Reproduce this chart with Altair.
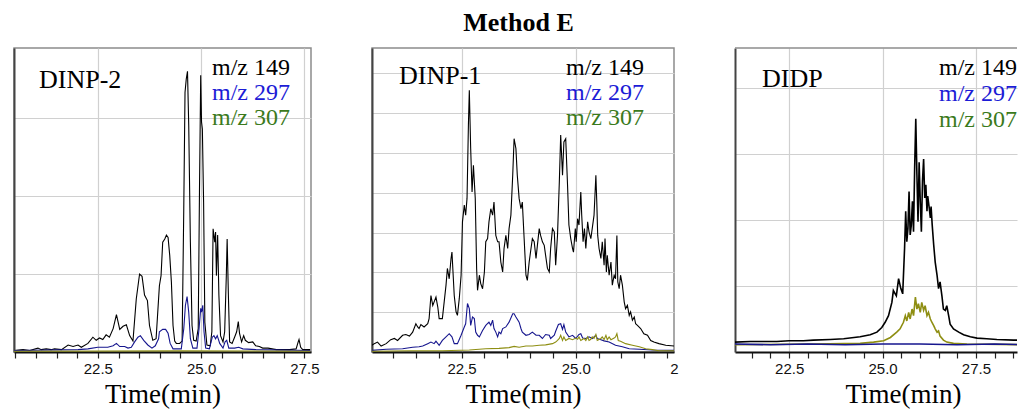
import altair as alt
import pandas as pd

# ---------------- text ----------------
TITLE = "Method E"
X_TITLE = "Time(min)"
ION_NAMES = ["m/z 149", "m/z 297", "m/z 307"]
PANEL_NAMES = ["DINP-2", "DINP-1", "DIDP"]
TRACE_COLORS = {"m/z 149": "#000000", "m/z 297": "#16168e", "m/z 307": "#8e8e12"}
LABEL_COLORS = {"m/z 149": "#000000", "m/z 297": "#1c1cd6", "m/z 307": "#3b7a1c"}

# ---------------- panel 1 : DINP-2 ----------------
p1_t149 = [20.47, 20.69, 20.85, 21.05, 21.13, 21.25, 21.37, 21.45, 21.62, 21.78,
           21.90, 22.02, 22.10, 22.26, 22.38, 22.46, 22.54, 22.62, 22.70, 22.78,
           22.87, 22.95, 23.03, 23.11, 23.19, 23.27, 23.35, 23.43, 23.51, 23.57,
           23.63, 23.70, 23.75, 23.83, 23.91, 23.99, 24.03, 24.07, 24.12, 24.16,
           24.20, 24.24, 24.28, 24.32, 24.36, 24.40, 24.48, 24.54, 24.58, 24.61,
           24.64, 24.67, 24.70, 24.74, 24.78, 24.82, 24.88, 24.93, 24.96, 24.99,
           25.01, 25.03, 25.06, 25.09, 25.14, 25.22, 25.26, 25.29, 25.33, 25.35,
           25.37, 25.40, 25.43, 25.47, 25.53, 25.57, 25.61, 25.63, 25.66, 25.69,
           25.75, 25.81, 25.86, 25.90, 25.93, 25.98, 26.03, 26.07, 26.15, 26.25,
           26.32, 26.41, 26.49, 26.62, 26.82, 27.14, 27.30, 27.35, 27.37, 27.41,
           27.46, 27.64]
p1_i149 = [0.02, 0.03, 0.02, 0.05, 0.03, 0.04, 0.03, 0.04, 0.03, 0.09,
           0.07, 0.09, 0.06, 0.11, 0.19, 0.15, 0.18, 0.16, 0.22, 0.19,
           0.30, 0.48, 0.29, 0.33, 0.35, 0.21, 0.14, 0.68, 1.00, 0.97,
           0.73, 0.66, 0.34, 0.15, 0.17, 0.85, 0.98, 1.41, 1.45, 1.50,
           1.47, 1.24, 0.90, 0.34, 0.14, 0.11, 0.11, 0.14, 1.84, 3.33,
           3.50, 3.60, 2.91, 1.41, 0.34, 0.15, 0.14, 0.30, 2.05, 3.55,
           2.95, 2.86, 1.92, 0.38, 0.09, 0.08, 0.26, 1.58, 1.41, 1.54,
           0.98, 1.50, 0.73, 0.21, 0.13, 0.26, 0.98, 1.45, 0.73, 0.13,
           0.11, 0.19, 0.26, 0.39, 0.24, 0.13, 0.21, 0.15, 0.12, 0.13,
           0.08, 0.07, 0.05, 0.05, 0.03, 0.03, 0.04, 0.13, 0.16, 0.06,
           0.03, 0.03]
p1_t297 = [20.47, 22.02, 22.26, 22.50, 22.74, 22.87, 22.95, 23.03, 23.15, 23.23,
           23.31, 23.39, 23.47, 23.53, 23.61, 23.71, 23.81, 23.89, 23.97, 23.99,
           24.07, 24.14, 24.20, 24.25, 24.32, 24.52, 24.58, 24.62, 24.66, 24.70,
           24.74, 24.80, 24.90, 24.95, 24.99, 25.01, 25.04, 25.07, 25.11, 25.20,
           25.27, 25.31, 25.35, 25.39, 25.45, 25.53, 25.58, 25.62, 25.67, 25.81,
           25.91, 26.01, 26.33, 27.64]
p1_i297 = [0.02, 0.03, 0.04, 0.06, 0.06, 0.08, 0.11, 0.07, 0.07, 0.05,
           0.06, 0.13, 0.19, 0.21, 0.15, 0.09, 0.05, 0.08, 0.17, 0.26,
           0.29, 0.29, 0.24, 0.11, 0.04, 0.04, 0.30, 0.60, 0.71, 0.51,
           0.17, 0.05, 0.05, 0.30, 0.56, 0.51, 0.60, 0.26, 0.05, 0.04,
           0.19, 0.21, 0.17, 0.21, 0.11, 0.05, 0.13, 0.15, 0.05, 0.05,
           0.06, 0.04, 0.03, 0.02]
p1_t307 = [20.47, 24.50, 27.64]
p1_i307 = [0.01, 0.015, 0.01]

# ---------------- panel 2 : DINP-1 ----------------
p2_t149 = [20.54, 20.59, 20.66, 20.74, 20.85, 20.95, 21.03, 21.10, 21.21, 21.28,
           21.36, 21.43, 21.50, 21.54, 21.57, 21.61, 21.68, 21.76, 21.79, 21.83,
           21.87, 21.90, 21.94, 21.98, 22.01, 22.08, 22.16, 22.19, 22.23, 22.27,
           22.29, 22.34, 22.38, 22.41, 22.45, 22.49, 22.52, 22.56, 22.59, 22.62,
           22.65, 22.67, 22.70, 22.73, 22.76, 22.80, 22.83, 22.85, 22.89, 22.92,
           22.96, 23.00, 23.03, 23.07, 23.10, 23.14, 23.18, 23.21, 23.25, 23.29,
           23.32, 23.36, 23.40, 23.43, 23.47, 23.51, 23.54, 23.58, 23.62, 23.65,
           23.69, 23.72, 23.76, 23.80, 23.83, 23.87, 23.91, 23.94, 23.98, 24.02,
           24.05, 24.09, 24.13, 24.16, 24.20, 24.23, 24.27, 24.31, 24.34, 24.38,
           24.42, 24.45, 24.49, 24.53, 24.56, 24.60, 24.64, 24.67, 24.71, 24.74,
           24.78, 24.82, 24.85, 24.89, 24.93, 24.95, 24.99, 25.01, 25.04, 25.07,
           25.11, 25.13, 25.16, 25.19, 25.22, 25.26, 25.29, 25.33, 25.36, 25.40,
           25.44, 25.46, 25.48, 25.51, 25.55, 25.58, 25.62, 25.64, 25.67, 25.69,
           25.73, 25.77, 25.80, 25.84, 25.87, 25.90, 25.92, 25.95, 25.98, 26.02,
           26.06, 26.09, 26.13, 26.17, 26.20, 26.24, 26.28, 26.31, 26.35, 26.42,
           26.49, 26.57, 26.64, 26.71, 26.82, 26.97, 27.15]
p2_i149 = [0.17, 0.21, 0.25, 0.15, 0.21, 0.31, 0.34, 0.29, 0.42, 0.44,
           0.40, 0.50, 0.71, 0.63, 0.59, 0.69, 0.63, 0.71, 0.84, 1.42,
           1.17, 1.26, 1.38, 1.13, 0.84, 0.84, 1.68, 2.10, 1.84, 2.35,
           2.51, 1.42, 1.01, 0.92, 1.34, 1.93, 3.27, 3.69, 3.44, 3.86,
           5.70, 6.58, 5.11, 4.02, 4.69, 3.86, 2.10, 1.55, 1.93, 1.72,
           1.59, 2.01, 2.77, 2.85, 3.27, 3.60, 3.44, 3.77, 2.93, 2.77,
           2.77, 2.26, 2.01, 2.60, 2.93, 2.60, 3.10, 3.44, 4.44, 5.36,
           5.11, 4.44, 3.86, 3.60, 3.77, 2.85, 1.93, 1.80, 2.26, 2.60,
           2.85, 2.77, 2.35, 2.68, 3.10, 2.93, 2.77, 2.68, 2.43, 2.10,
           2.01, 2.60, 3.10, 3.02, 2.18, 2.93, 4.27, 5.45, 4.44, 5.28,
           5.36, 4.19, 3.19, 2.85, 2.60, 2.51, 3.10, 2.77, 3.35, 3.19,
           4.02, 3.44, 2.77, 3.10, 2.60, 3.27, 3.02, 2.85, 3.10, 3.44,
           4.44, 3.77, 2.93, 2.60, 2.35, 2.77, 2.18, 2.85, 2.01, 2.43,
           1.93, 2.26, 1.68, 1.93, 1.84, 2.93, 1.76, 1.59, 1.93, 1.68,
           1.26, 1.09, 1.17, 0.92, 1.01, 0.80, 0.88, 0.71, 0.67, 0.59,
           0.46, 0.42, 0.29, 0.25, 0.21, 0.17, 0.15]
p2_t297 = [20.54, 20.85, 21.21, 21.43, 21.57, 21.65, 21.76, 21.83, 21.90, 21.94,
           22.01, 22.08, 22.16, 22.23, 22.29, 22.34, 22.41, 22.49, 22.56, 22.59,
           22.63, 22.67, 22.70, 22.74, 22.78, 22.81, 22.85, 22.89, 22.96, 23.03,
           23.10, 23.14, 23.18, 23.21, 23.25, 23.29, 23.32, 23.36, 23.40, 23.47,
           23.54, 23.62, 23.65, 23.69, 23.76, 23.80, 23.83, 23.91, 23.98, 24.05,
           24.13, 24.20, 24.27, 24.34, 24.42, 24.45, 24.53, 24.56, 24.62, 24.67,
           24.71, 24.74, 24.78, 24.85, 24.93, 25.00, 25.07, 25.11, 25.15, 25.22,
           25.29, 25.36, 25.40, 25.44, 25.47, 25.55, 25.62, 25.73, 25.87, 26.02,
           26.17, 26.39, 26.68, 27.15]
p2_i297 = [0.04, 0.07, 0.08, 0.12, 0.13, 0.15, 0.21, 0.25, 0.21, 0.27,
           0.17, 0.29, 0.38, 0.46, 0.38, 0.21, 0.21, 0.42, 0.63, 0.71,
           1.22, 1.09, 0.67, 0.88, 0.84, 0.50, 0.42, 0.38, 0.54, 0.67,
           0.75, 0.67, 0.80, 0.59, 0.50, 0.38, 0.50, 0.46, 0.59, 0.63,
           0.75, 0.96, 0.96, 0.88, 0.75, 0.59, 0.50, 0.42, 0.44, 0.50,
           0.42, 0.42, 0.34, 0.44, 0.42, 0.34, 0.42, 0.52, 0.69, 0.71,
           0.57, 0.69, 0.50, 0.38, 0.42, 0.34, 0.44, 0.46, 0.35, 0.34,
           0.38, 0.34, 0.38, 0.42, 0.34, 0.31, 0.28, 0.25, 0.17, 0.13,
           0.08, 0.07, 0.05, 0.04]
p2_t307 = [20.54, 21.36, 22.08, 22.67, 23.03, 23.32, 23.54, 23.65, 23.76, 23.91,
           24.05, 24.20, 24.34, 24.49, 24.56, 24.60, 24.64, 24.67, 24.71, 24.74,
           24.78, 24.85, 24.93, 25.00, 25.04, 25.07, 25.11, 25.18, 25.22, 25.26,
           25.29, 25.33, 25.36, 25.40, 25.44, 25.47, 25.55, 25.58, 25.62, 25.66,
           25.69, 25.73, 25.77, 25.84, 25.87, 25.90, 25.93, 25.98, 26.09, 26.24,
           26.39, 26.53, 26.68, 26.82, 27.15]
p2_i307 = [0.02, 0.03, 0.03, 0.05, 0.08, 0.09, 0.11, 0.14, 0.12, 0.15,
           0.15, 0.17, 0.18, 0.21, 0.25, 0.29, 0.34, 0.42, 0.29, 0.38,
           0.29, 0.34, 0.31, 0.35, 0.32, 0.38, 0.29, 0.34, 0.29, 0.38,
           0.29, 0.32, 0.38, 0.34, 0.44, 0.29, 0.34, 0.38, 0.31, 0.42,
           0.31, 0.38, 0.31, 0.35, 0.38, 0.46, 0.29, 0.27, 0.21, 0.17,
           0.13, 0.08, 0.06, 0.03, 0.03]

# ---------------- panel 3 : DIDP ----------------
p3_t149 = [21.05, 21.46, 21.81, 22.17, 22.50, 22.88, 23.15, 23.60, 23.96, 24.40,
           24.67, 24.85, 24.98, 25.07, 25.16, 25.25, 25.29, 25.37, 25.43, 25.49,
           25.54, 25.59, 25.62, 25.65, 25.68, 25.71, 25.74, 25.77, 25.80, 25.83,
           25.86, 25.89, 25.92, 25.95, 25.98, 26.01, 26.04, 26.07, 26.10, 26.13,
           26.16, 26.19, 26.21, 26.25, 26.28, 26.30, 26.33, 26.37, 26.41, 26.46,
           26.50, 26.54, 26.59, 26.63, 26.68, 26.72, 26.77, 26.81, 26.90, 27.04,
           27.17, 27.35, 27.53, 27.79, 28.06, 28.51, 28.91]
p3_i149 = [0.15, 0.16, 0.16, 0.16, 0.17, 0.17, 0.18, 0.19, 0.20, 0.23,
           0.26, 0.30, 0.37, 0.45, 0.55, 0.75, 0.93, 0.85, 1.11, 0.96,
           0.88, 1.57, 2.13, 1.67, 1.87, 2.43, 1.77, 1.92, 2.28, 1.82,
           2.79, 3.53, 2.69, 1.97, 2.87, 2.28, 1.82, 2.59, 2.92, 2.33,
           2.53, 2.13, 2.36, 2.18, 2.03, 2.20, 1.92, 1.62, 1.36, 1.16,
           0.96, 1.06, 0.85, 0.65, 0.63, 0.70, 0.55, 0.42, 0.35, 0.30,
           0.26, 0.23, 0.21, 0.20, 0.19, 0.18, 0.18]
p3_t297 = [21.05, 22.00, 23.00, 24.00, 25.00, 26.00, 27.00, 28.00, 28.91]
p3_i297 = [0.12, 0.11, 0.12, 0.11, 0.12, 0.12, 0.11, 0.12, 0.11]
p3_t307 = [21.05, 23.15, 24.40, 24.76, 25.03, 25.21, 25.38, 25.47, 25.56, 25.61,
           25.65, 25.70, 25.74, 25.79, 25.83, 25.88, 25.92, 25.96, 26.01, 26.05,
           26.10, 26.14, 26.19, 26.23, 26.28, 26.32, 26.37, 26.41, 26.46, 26.50,
           26.54, 26.63, 26.72, 26.90, 27.26, 28.91]
p3_i307 = [0.11, 0.12, 0.13, 0.15, 0.17, 0.22, 0.30, 0.35, 0.45, 0.55,
           0.47, 0.60, 0.50, 0.65, 0.55, 0.83, 0.65, 0.73, 0.60, 0.75,
           0.63, 0.70, 0.55, 0.60, 0.50, 0.45, 0.40, 0.35, 0.30, 0.32,
           0.24, 0.18, 0.15, 0.13, 0.12, 0.11]

# ---------------- axes ----------------
p1_xticks = [20.5, 21.0, 21.5, 22.0, 22.5, 23.0, 23.5, 24.0, 24.5, 25.0, 25.5, 26.0, 26.5, 27.0, 27.5]
p2_xticks = [21.0, 21.5, 22.0, 22.5, 23.0, 23.5, 24.0, 24.5, 25.0, 25.5, 26.0, 26.5, 27.0, 27.15]
p3_xticks = [21.5, 22.0, 22.5, 23.0, 23.5, 24.0, 24.5, 25.0, 25.5, 26.0, 26.5, 27.0, 27.5, 28.0, 28.5]
p1_ygrid = [1, 2, 3]
p2_ygrid = [1, 2, 3, 4, 5, 6, 7]
p3_ygrid = [1, 2, 3, 4]

SERIF = "Liberation Serif"
SANS = "Liberation Sans"
GRID = "#d0d0d0"
FRAME = "#8c8c8c"
P3_WIDTH = 282


def make_panel(name, series, order, xdom, ydom, width, xticks, ygrid,
               name_xy, ion_x, ion_ys, lw, title_x=None, framed=True):
    axis_kw = dict(
        values=xticks,
        labelExpr="(datum.value*2) % 1 != 0 ? '2' : ((datum.value*2) % 5 == 0 ? format(datum.value, '.1f') : '')",
        labelFont=SANS, labelFontSize=15, labelColor="#111111", labelPadding=3,
        labelFlush=False, labelOverlap=False,
        tickSize=6, tickColor="#222222", tickWidth=1.2,
        tickOpacity={"condition": {"test": "(datum.value*2) % 1 == 0", "value": 1}, "value": 0},
        domainColor="#111111", domainWidth=2,
        grid=True, gridColor=GRID, gridWidth=1.2,
        gridOpacity={"condition": {"test": "(datum.value*2) % 5 == 0", "value": 1}, "value": 0},
        title=X_TITLE, titleFont=SERIF, titleFontSize=27, titleFontWeight="normal",
        titleColor="#000000", titlePadding=5,
    )
    if title_x is not None:
        axis_kw["titleX"] = title_x
        axis_kw["titleAlign"] = "center"
    xaxis = alt.Axis(**axis_kw)
    yaxis = alt.Axis(values=ygrid, labels=False, ticks=False, title=None,
                     domainColor="#444444", domainWidth=2,
                     grid=True, gridColor=GRID, gridWidth=1.2)
    xenc = alt.X("t:Q", scale=alt.Scale(domain=xdom, nice=False, zero=False), axis=xaxis)
    yenc = alt.Y("v:Q", scale=alt.Scale(domain=ydom, nice=False, zero=False), axis=yaxis)

    layers = []
    for ion in order:
        t, v = series[ion]
        df = pd.DataFrame({"t": t, "v": v})
        layers.append(
            alt.Chart(df).mark_line(color=TRACE_COLORS[ion], strokeWidth=lw, clip=True)
            .encode(x=xenc, y=yenc)
        )
    one = pd.DataFrame({"k": [0]})
    if not framed:
        # top border only (the panel is cut at the right edge of the figure)
        layers.append(
            alt.Chart(one).mark_rule(color=FRAME, strokeWidth=1.5)
            .encode(x=alt.value(0), x2=alt.value(width), y=alt.value(0))
        )
    layers.append(
        alt.Chart(one).mark_text(align="left", baseline="alphabetic", font=SERIF,
                                 fontSize=26, color="#000000")
        .encode(x=alt.value(name_xy[0]), y=alt.value(name_xy[1]), text=alt.value(name))
    )
    for ion, yy in zip(ION_NAMES, ion_ys):
        layers.append(
            alt.Chart(one).mark_text(align="left", baseline="alphabetic", font=SERIF,
                                     fontSize=24, color=LABEL_COLORS[ion])
            .encode(x=alt.value(ion_x), y=alt.value(yy), text=alt.value(ion))
        )
    props = dict(width=width, height=304)
    if not framed:
        props["view"] = alt.ViewBackground(stroke="transparent", strokeWidth=0)
    return alt.layer(*layers).properties(**props)


panel1 = make_panel(
    PANEL_NAMES[0],
    {"m/z 149": (p1_t149, p1_i149), "m/z 297": (p1_t297, p1_i297), "m/z 307": (p1_t307, p1_i307)},
    ["m/z 149", "m/z 297", "m/z 307"],
    [20.47, 27.66], [0, 3.9], 297, p1_xticks, p1_ygrid,
    (25, 40), 198, [27, 52, 77], 1.1)
panel2 = make_panel(
    PANEL_NAMES[1],
    {"m/z 149": (p2_t149, p2_i149), "m/z 297": (p2_t297, p2_i297), "m/z 307": (p2_t307, p2_i307)},
    ["m/z 149", "m/z 297", "m/z 307"],
    [20.54, 27.15], [0, 7.64], 302, p2_xticks, p2_ygrid,
    (27, 36), 194, [27, 52, 77], 1.1)
panel3 = make_panel(
    PANEL_NAMES[2],
    {"m/z 149": (p3_t149, p3_i149), "m/z 297": (p3_t297, p3_i297), "m/z 307": (p3_t307, p3_i307)},
    ["m/z 149", "m/z 307", "m/z 297"],
    [21.05, 28.60], [0, 4.6], P3_WIDTH, p3_xticks, p3_ygrid,
    (27, 39), 204, [27, 53, 79], 1.6, title_x=168, framed=False)

chart = alt.hconcat(panel1, panel2, panel3, spacing=61, bounds="flush").properties(
    title=alt.TitleParams(TITLE, font=SERIF, fontSize=26, fontWeight="bold",
                          color="#000000", anchor="middle", dx=3, offset=11),
    padding={"left": 5, "top": 2, "right": 0, "bottom": 5},
).configure_view(stroke=FRAME, strokeWidth=1.5)

chart.save("out.html", embed_options={"renderer": "svg", "actions": False})
